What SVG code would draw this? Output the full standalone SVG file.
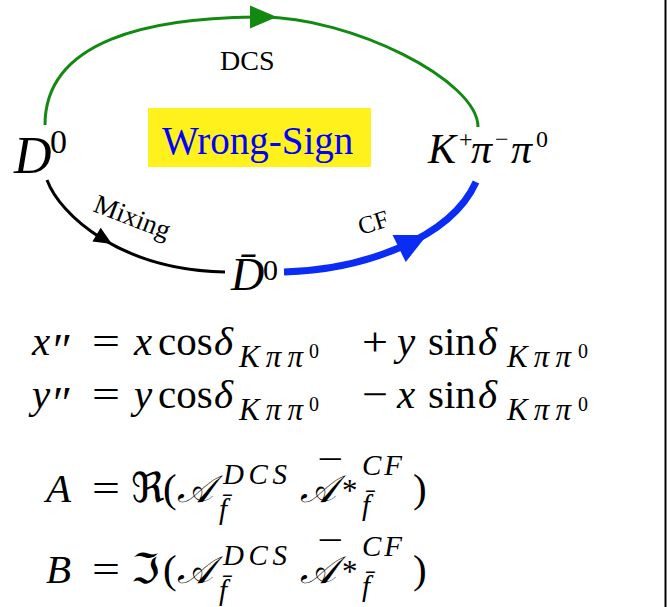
<svg xmlns="http://www.w3.org/2000/svg" width="672" height="607" viewBox="0 0 672 607">
<defs>
<style>
.t{font-family:"Liberation Serif","Times New Roman",serif;fill:#000}
.it{font-style:italic}
.eq{font-size:41px}
.sub{font-size:31px;font-style:italic}
.ssup{font-size:20px;font-style:normal}
.sup{font-size:29px;font-style:italic}
.cal{font-family:"DejaVu Serif","DejaVu Sans","Liberation Serif",serif;font-style:italic;font-size:38px}
.sym{font-family:"DejaVu Serif","DejaVu Sans",serif}
</style>
<path id="ahG" d="M0,0 L-27,-11.5 L-27,11.5 Z"/>
<path id="ahK" d="M0,0 L-18,-8 L-18,8 Z"/>
<path id="ahB" d="M0,0 L-31,-15 L-31,15 Z"/>
</defs>
<rect width="672" height="607" fill="#fff"/>
<line x1="665.5" y1="0" x2="665.5" y2="607" stroke="#000" stroke-width="2"/>

<g id="connectors">
<g id="dcs">
<path d="M45,125 C45,40 150,17 262,17 C350,17 478,80 478,127" fill="none" stroke="#128a12" stroke-width="3"/>
<use href="#ahG" transform="translate(277,17)" fill="#128a12"/>
<text class="t" x="220" y="70" font-size="28">DCS</text>
</g>
<g id="mixing">
<path d="M47,180 C60,215 120,270 225,272" fill="none" stroke="#000" stroke-width="3"/>
<use href="#ahK" transform="translate(112,244) rotate(31)" fill="#000"/>
<text class="t" font-size="27" transform="translate(92,211) rotate(21)">Mixing</text>
</g>
<g id="cf">
<path d="M284,272 C360,270 450,240 476,182" fill="none" stroke="#0a2cf5" stroke-width="7"/>
<use href="#ahB" transform="translate(427,235) rotate(-26)" fill="#0a2cf5"/>
<text class="t" font-size="25" transform="translate(361,235) rotate(-17)">CF</text>
</g>
</g>

<g id="node-D0">
<text class="t it" x="14" y="173" font-size="52">D</text>
<text class="t" x="50" y="153" font-size="34">0</text>
</g>

<g id="node-Kpipi0">
<text class="t it" x="428" y="163" font-size="42">K</text>
<text class="t" x="459" y="147" font-size="24">+</text>
<text class="t it" x="471" y="163" font-size="42">π</text>
<text class="t" x="495" y="147" font-size="24">−</text>
<text class="t it" x="511" y="163" font-size="42">π</text>
<text class="t" x="536" y="147" font-size="24">0</text>
</g>

<g id="node-D0bar">
<text class="t it" x="231" y="290" font-size="46">D̄</text>
<text class="t" x="263" y="280" font-size="30">0</text>
</g>

<g id="wrong-sign">
<rect x="148" y="108" width="223" height="59" fill="#fff21c"/>
<text class="t" x="162" y="154" font-size="39" style="fill:#0000ff">Wrong-Sign</text>
</g>

<g id="equations">
<text class="t eq" y="355">
<tspan x="32" class="it">x</tspan><tspan x="53" y="366" font-size="46">″</tspan><tspan x="92" y="355" textLength="28" lengthAdjust="spacingAndGlyphs">=</tspan><tspan x="134" class="it">x</tspan><tspan x="158">cos</tspan><tspan x="214" class="it">δ</tspan><tspan x="239" y="367" class="sub" textLength="64" lengthAdjust="spacing">Kππ</tspan><tspan x="309" y="358" class="ssup">0</tspan><tspan x="362" y="355" textLength="26" lengthAdjust="spacingAndGlyphs">+</tspan><tspan x="397" class="it">y</tspan><tspan x="428">sin</tspan><tspan x="478" class="it">δ</tspan><tspan x="507" y="367" class="sub" textLength="64" lengthAdjust="spacing">Kππ</tspan><tspan x="578" y="358" class="ssup">0</tspan>
</text>
<text class="t eq" y="408">
<tspan x="32" class="it">y</tspan><tspan x="53" y="419" font-size="46">″</tspan><tspan x="92" y="408" textLength="28" lengthAdjust="spacingAndGlyphs">=</tspan><tspan x="134" class="it">y</tspan><tspan x="158">cos</tspan><tspan x="214" class="it">δ</tspan><tspan x="239" y="420" class="sub" textLength="64" lengthAdjust="spacing">Kππ</tspan><tspan x="309" y="411" class="ssup">0</tspan><tspan x="362" y="408" textLength="26" lengthAdjust="spacingAndGlyphs">−</tspan><tspan x="397" class="it">x</tspan><tspan x="428">sin</tspan><tspan x="478" class="it">δ</tspan><tspan x="507" y="420" class="sub" textLength="64" lengthAdjust="spacing">Kππ</tspan><tspan x="578" y="411" class="ssup">0</tspan>
</text>
<text class="t eq" y="502">
<tspan x="46" class="it">A</tspan><tspan x="92" textLength="28" lengthAdjust="spacingAndGlyphs">=</tspan><tspan x="131" class="sym">ℜ</tspan><tspan x="163">(</tspan><tspan x="177" class="cal">𝒜</tspan><tspan x="223" y="484" class="sup" textLength="64" lengthAdjust="spacing">DCS</tspan><tspan x="219" y="519" class="sup">f̄</tspan><tspan x="300" y="502" class="cal">𝒜</tspan><tspan x="320" y="489">¯</tspan><tspan x="342" y="501" font-size="31">*</tspan><tspan x="362" y="475" class="sup" textLength="40" lengthAdjust="spacing">CF</tspan><tspan x="362" y="515" class="sup">f̄</tspan><tspan x="413" y="502">)</tspan>
</text>
<text class="t eq" y="583">
<tspan x="46" class="it">B</tspan><tspan x="92" textLength="28" lengthAdjust="spacingAndGlyphs">=</tspan><tspan x="131" class="sym">ℑ</tspan><tspan x="163">(</tspan><tspan x="177" class="cal">𝒜</tspan><tspan x="223" y="565" class="sup" textLength="64" lengthAdjust="spacing">DCS</tspan><tspan x="219" y="600" class="sup">f̄</tspan><tspan x="300" y="583" class="cal">𝒜</tspan><tspan x="320" y="570">¯</tspan><tspan x="342" y="582" font-size="31">*</tspan><tspan x="362" y="556" class="sup" textLength="40" lengthAdjust="spacing">CF</tspan><tspan x="362" y="596" class="sup">f̄</tspan><tspan x="413" y="583">)</tspan>
</text>
</g>
</svg>
